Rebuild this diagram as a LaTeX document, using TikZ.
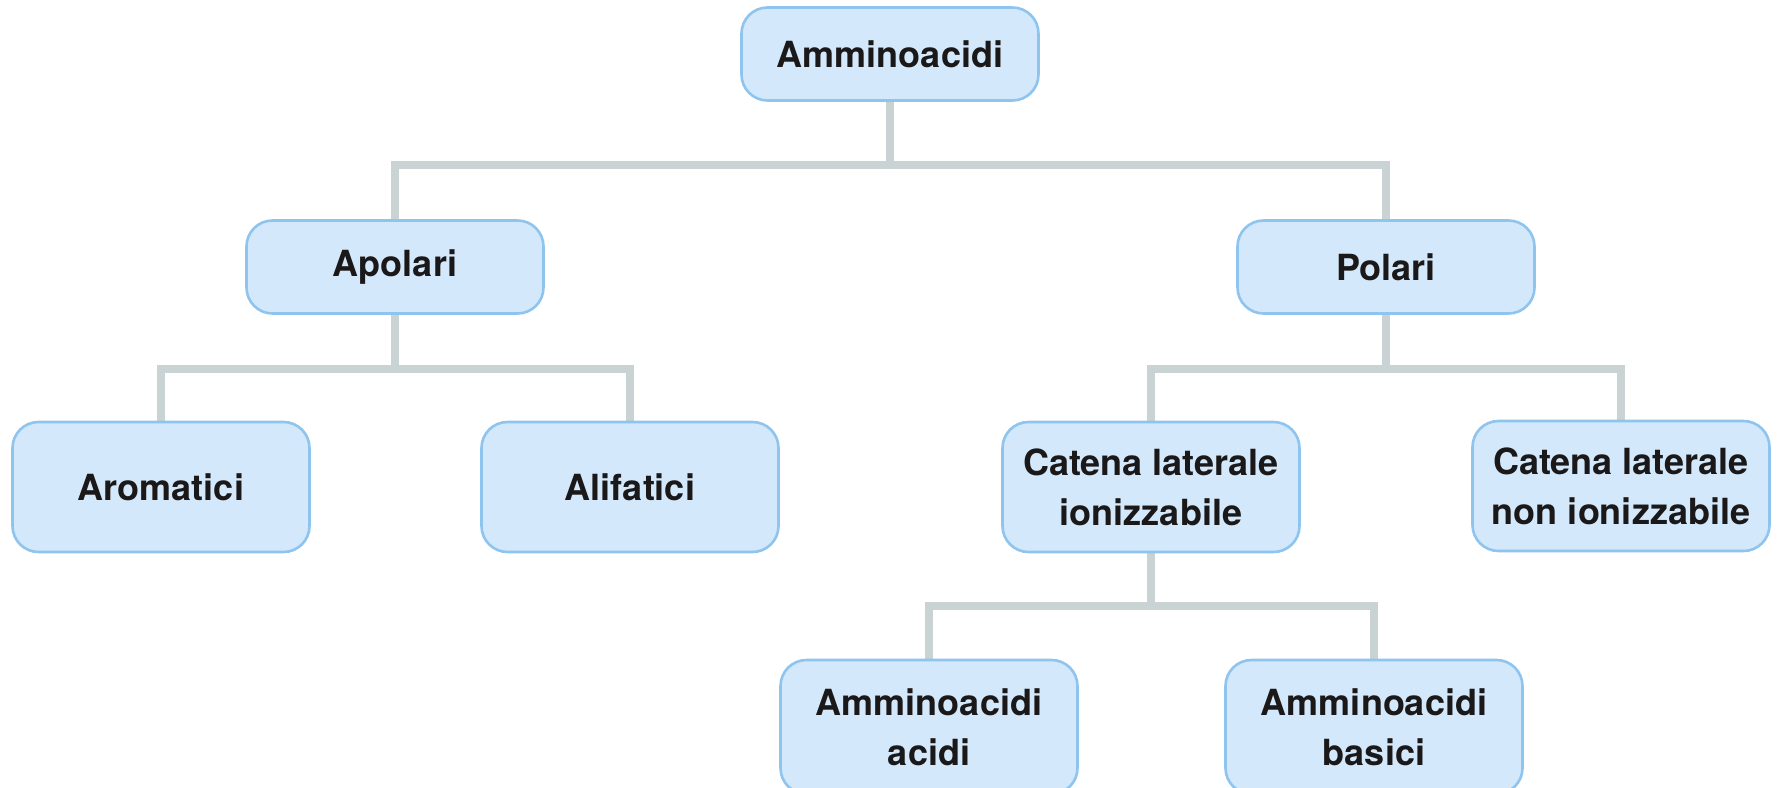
\documentclass[tikz,border=0pt]{standalone}
\usepackage{fontspec}
\setmainfont{TeX Gyre Heros}
\usetikzlibrary{backgrounds}
\definecolor{boxfill}{HTML}{D3E8FA}
\definecolor{boxline}{HTML}{8EC4EE}
\definecolor{connline}{HTML}{C9D3D3}
\definecolor{txt}{HTML}{1A1818}
\tikzset{
  box/.style={draw=boxline, fill=boxfill, line width=1.3pt, rounded corners=13pt,
    minimum width=148.5pt, align=center, text=txt, inner sep=0pt,
    font=\fontsize{18}{25}\selectfont\bfseries},
  boxA/.style={box, minimum height=46.5pt},
  boxB/.style={box, minimum height=65pt},
  boxC/.style={box, minimum height=67pt},
  conn/.style={draw=connline, line width=4.4pt}
}
\begin{document}
\begin{tikzpicture}[x=0.5pt,y=-0.5pt]
\useasboundingbox (0,0) rectangle (1777,787);
\node[boxA] (top) at (890,54) {Amminoacidi};
\node[boxA] (apo) at (395,267) {Apolari};
\node[boxA] (pol) at (1386,267) {Polari};
\node[boxB] (aro) at (161,487) {Aromatici};
\node[boxB] (ali) at (630,487) {Alifatici};
\node[boxB] (ion) at (1151,487) {Catena laterale\\ionizzabile};
\node[boxB] (non) at (1621,486) {Catena laterale\\non ionizzabile};
\node[boxC] (acidi) at (929,727) {Amminoacidi\\acidi};
\node[boxC] (basici) at (1374,727) {Amminoacidi\\basici};
\coordinate (b1) at (890,165);
\coordinate (b2) at (395,369);
\coordinate (b3) at (1386,369);
\coordinate (b4) at (1151,606);
\begin{scope}[on background layer]
\draw[conn] (top.south) -- (b1);
\draw[conn] (apo.north) |- (b1) -| (pol.north);
\draw[conn] (apo.south) -- (b2);
\draw[conn] (aro.north) |- (b2) -| (ali.north);
\draw[conn] (pol.south) -- (b3);
\draw[conn] (ion.north) |- (b3) -| (non.north);
\draw[conn] (ion.south) -- (b4);
\draw[conn] (acidi.north) |- (b4) -| (basici.north);
\end{scope}
\end{tikzpicture}
\end{document}
